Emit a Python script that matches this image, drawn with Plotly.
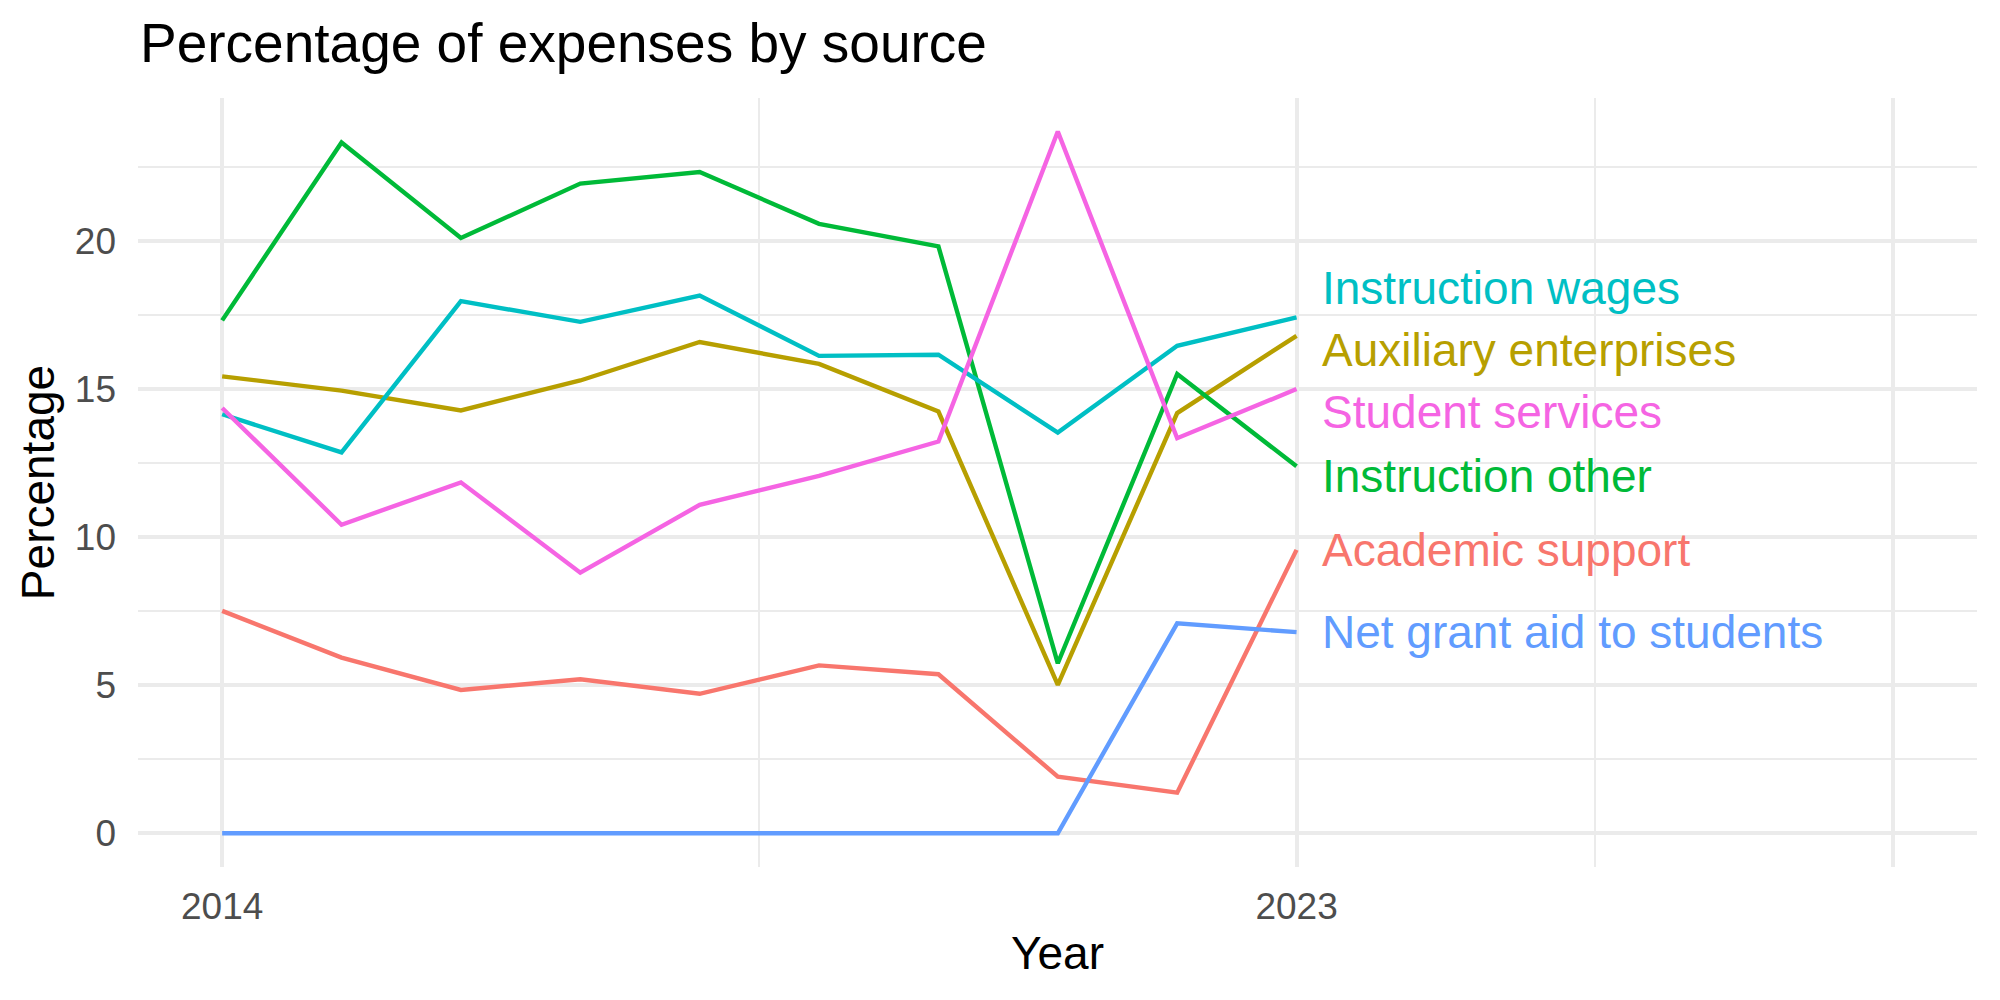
import plotly.graph_objects as go

years = [2014, 2015, 2016, 2017, 2018, 2019, 2020, 2021, 2022, 2023]

series_names = [
    "Academic support",
    "Auxiliary enterprises",
    "Instruction other",
    "Instruction wages",
    "Net grant aid to students",
    "Student services",
]

academic_support = [7.51, 5.93, 4.84, 5.20, 4.71, 5.67, 5.37, 1.91, 1.37, 9.57]
auxiliary_enterprises = [15.43, 14.95, 14.28, 15.29, 16.59, 15.85, 14.24, 5.01, 14.19, 16.80]
instruction_other = [17.32, 23.33, 20.10, 21.94, 22.33, 20.58, 19.82, 5.74, 15.51, 12.39]
instruction_wages = [14.15, 12.86, 17.97, 17.27, 18.16, 16.12, 16.16, 13.53, 16.46, 17.42]
net_grant_aid = [0, 0, 0, 0, 0, 0, 0, 0, 7.09, 6.79]
student_services = [14.36, 10.42, 11.85, 8.80, 11.09, 12.07, 13.23, 23.70, 13.34, 15.00]

series_values = [
    academic_support,
    auxiliary_enterprises,
    instruction_other,
    instruction_wages,
    net_grant_aid,
    student_services,
]

colors = ["#F8766D", "#B79F00", "#00BA38", "#00BFC4", "#619CFF", "#F564E3"]

# label y positions (repelled, in data units)
label_y = [9.57, 16.32, 12.06, 18.43, 6.80, 14.21]
label_x = 2023.2

x_tickvals = [2014, 2023, 2028]
x_ticktext = ["2014", "2023", ""]
x_minor = [2018.5, 2025.5]
y_tickvals = [0, 5, 10, 15, 20]
y_ticktext = ["0", "5", "10", "15", "20"]
y_minor = [2.5, 7.5, 12.5, 17.5, 22.5]

FONT = "Liberation Sans, Arial, Helvetica, sans-serif"
GRID = "#EBEBEB"

fig = go.Figure()
for name, vals, col in zip(series_names, series_values, colors):
    fig.add_trace(go.Scatter(
        x=years, y=vals, mode="lines", name=name,
        line=dict(color=col, width=4.4), showlegend=False,
    ))

for name, ly, col in zip(series_names, label_y, colors):
    fig.add_annotation(
        x=label_x, y=ly, text=name, showarrow=False,
        xanchor="left", yanchor="middle",
        font=dict(family=FONT, size=46, color=col),
    )

fig.update_layout(
    width=2000, height=1000, autosize=False,
    margin=dict(l=138, r=23, t=98, b=133),
    paper_bgcolor="white", plot_bgcolor="white",
    font=dict(family=FONT),
    title=dict(
        text="Percentage of expenses by source",
        font=dict(family=FONT, size=55, color="black"),
        x=140 / 2000, xanchor="left", xref="container",
        y=1 - 43 / 1000, yanchor="middle", yref="container",
    ),
)

fig.update_xaxes(
    range=[2013.295, 2028.70],
    tickvals=x_tickvals, ticktext=x_ticktext,
    showgrid=True, gridcolor=GRID, gridwidth=4.4,
    minor=dict(tickvals=x_minor, showgrid=True, gridcolor=GRID, gridwidth=2.2),
    zeroline=False, showline=False, ticks="",
    tickfont=dict(family=FONT, size=37, color="#4D4D4D"),
    ticklabelstandoff=14,
    title=dict(text="Year", font=dict(family=FONT, size=46, color="black"), standoff=10),
)
fig.update_yaxes(
    range=[-1.14, 24.83],
    tickvals=y_tickvals, ticktext=y_ticktext,
    showgrid=True, gridcolor=GRID, gridwidth=4.4,
    minor=dict(tickvals=y_minor, showgrid=True, gridcolor=GRID, gridwidth=2.2),
    zeroline=False, showline=False, ticks="",
    tickfont=dict(family=FONT, size=37, color="#4D4D4D"),
    ticklabelstandoff=21,
    title=dict(text="Percentage", font=dict(family=FONT, size=46, color="black"), standoff=5),
)

fig.write_html("out.html")
